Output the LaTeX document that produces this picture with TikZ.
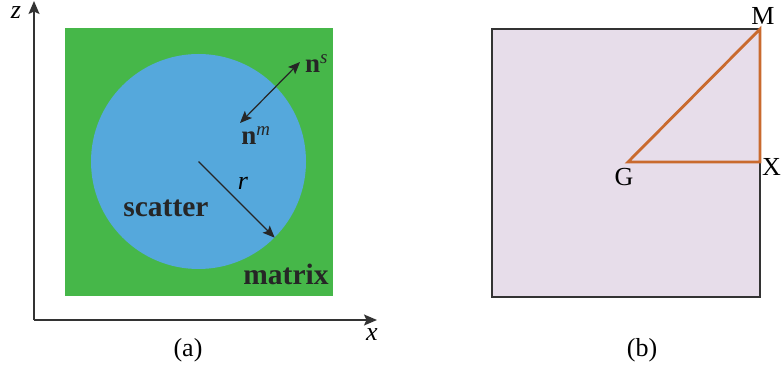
\documentclass[tikz,border=0pt]{standalone}
\usepackage{fontspec}
\setmainfont{Liberation Serif}
\usetikzlibrary{arrows.meta,positioning}
\definecolor{greenm}{HTML}{46B749}
\definecolor{bluesc}{HTML}{55A8DC}
\definecolor{lilac}{HTML}{E7DDEA}
\definecolor{orangep}{HTML}{C96A2E}
\definecolor{darkline}{HTML}{333333}
\tikzset{axis/.style={-{Stealth[length=13pt,width=11pt,inset=2.5pt]},line width=1.6pt,draw=darkline},dblarrow/.style={{Stealth[length=12pt,width=10pt,inset=2.5pt]}-{Stealth[length=12pt,width=10pt,inset=2.5pt]},line width=1.2pt,draw=black!85},radarrow/.style={-{Stealth[length=12pt,width=10pt,inset=2.5pt]},line width=1.2pt,draw=black!85},lbl/.style={font=\fontsize{26}{30}\selectfont,inner sep=1pt},blbl/.style={font=\fontsize{27}{30}\selectfont\bfseries,text=black!85,inner sep=1pt},edge/.style={draw=orangep,line width=2.8pt,line join=miter}}
\begin{document}
\begin{tikzpicture}[x=1pt,y=-1pt]
\useasboundingbox (0,0) rectangle (784,371);
% (a) scatter in matrix
\node[fill=greenm,minimum size=268pt,inner sep=0] (matrixsq) at (199,162) {};
\node[circle,fill=bluesc,minimum size=215pt,inner sep=0] (scat) at (198.5,161.5) {};
\coordinate (O) at (34,320);
\coordinate (ztip) at (34,1);
\coordinate (xtip) at (377,320);
\draw[axis] (O) -- (ztip);
\draw[axis] (O) -- (xtip);
\node[lbl,font=\fontsize{26}{30}\selectfont\itshape] (zlab) at (16,13) {z};
\node[lbl,font=\fontsize{26}{30}\selectfont\itshape] (xlab) at (372,335) {x};
\coordinate (nmend) at (240,123);
\coordinate (nsend) at (300,62);
\draw[dblarrow] (nmend) -- (nsend);
\node[blbl,anchor=west] (nslab) at (304,64) {n\textsuperscript{\mdseries\itshape s}};
\node[blbl] (nmlab) at (256,136) {n\textsuperscript{\mdseries\itshape m}};
\draw[radarrow] (scat.center) -- (scat.-45);
\node[lbl,font=\fontsize{26}{30}\selectfont\itshape] (rlab) at (243,183) {r};
\node[blbl,font=\fontsize{29.5}{32}\selectfont\bfseries] (scatlab) at (166,208) {scatter};
\node[blbl,font=\fontsize{29.5}{32}\selectfont\bfseries] (matlab) at (286,274) {matrix};
\node[lbl] (capa) at (188,350) {(a)};
% (b) square cell with G, X, M
\node[draw=darkline,fill=lilac,line width=1.2pt,minimum size=268pt,inner sep=0] (cell) at (626,163) {};
\coordinate (G) at (628,162);
\coordinate (X) at (760,162);
\coordinate (M) at (760,29);
\draw[edge] (G) -- (X) -- (M) -- cycle;
\node[lbl,below=5pt of G,xshift=-4pt] (glab) {G};
\node[lbl,right=1pt of X,yshift=-5pt] (xlabb) {X};
\node[lbl,above=3pt of M,xshift=3pt] (mlab) {M};
\node[lbl] (capb) at (642,350) {(b)};
\end{tikzpicture}
\end{document}
